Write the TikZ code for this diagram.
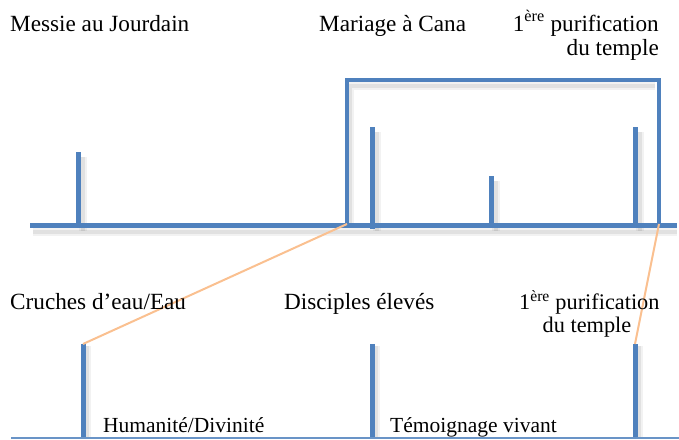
\documentclass[tikz,border=0pt]{standalone}
\usepackage{fontspec}
\setmainfont{Liberation Serif}
\definecolor{ublue}{HTML}{4F81BD}
\definecolor{uorange}{HTML}{FAC090}
\begin{document}
\begin{tikzpicture}[x=1pt,y=-1pt,
  bar/.style={ublue,line width=5pt},
  thin bar/.style={ublue,line width=3.2pt},
  link/.style={uorange,line width=2pt},
  shade/.style={black,line width=8pt,opacity=0.05},
  shadein/.style={black,line width=4pt,opacity=0.07},
  lbl/.style={inner sep=0pt,font=\fontsize{21.5}{24}\selectfont,text=black},
  big/.style={font=\fontsize{23.2}{26}\selectfont}]
\useasboundingbox (0,0) rectangle (679,439);
% shadows
\foreach \s in {shade,shadein}{
  \draw[\s] (33,232) -- (677,232);
  \foreach \x/\t in {80/155,374/130,493/179,637/130}{\draw[\s] (\x+3,\t+2) -- (\x+3,231);}
  \foreach \x in {86,375,638}{\draw[\s] (\x+1,346) -- (\x+1,439);}
  \draw[\s] (350,224) -- (350,86) -- (655,86);
}
% top timeline
\coordinate (axL) at (30,225);
\coordinate (axR) at (677,225);
\draw[bar] (axL) -- (axR);
\coordinate (t1) at (78,152); \coordinate (t1b) at (78,225);
\coordinate (t2) at (372,127); \coordinate (t2b) at (372,229);
\coordinate (t3) at (491,176); \coordinate (t3b) at (491,225);
\coordinate (t4) at (635,127); \coordinate (t4b) at (635,225);
\draw[bar] (t1) -- (t1b);
\draw[bar] (t2) -- (t2b);
\draw[bar] (t3) -- (t3b);
\draw[bar] (t4) -- (t4b);
% bracket
\coordinate (bL) at (347,224);
\coordinate (bR) at (659,224);
\draw[thin bar,line join=miter] (bL) -- (347,80) -- (659,80) -- (bR);
% bottom
\coordinate (bl1) at (83,344); \coordinate (bl1b) at (83,439);
\coordinate (bl2) at (372,344); \coordinate (bl2b) at (372,439);
\coordinate (bl3) at (635,344); \coordinate (bl3b) at (635,439);
\draw[bar] (bl1) -- (bl1b);
\draw[bar] (bl2) -- (bl2b);
\draw[bar] (bl3) -- (bl3b);
\coordinate (gL) at (11,438); \coordinate (gR) at (679,438);
\draw[ublue!85,line width=1.3pt] (gL) -- (gR);
% links
\draw[link] (bL) -- (bl1);
\draw[link] (bR) -- (bl3);
% labels top
\node[lbl,big,anchor=base west] (m1) at (10,31) {Messie au Jourdain};
\node[lbl,big,anchor=base west] (m2) at (319,31) {Mariage à Cana};
\node[lbl,big,anchor=base east] (m3) at (659,31) {1\textsuperscript{ère} purification};
\node[lbl,big,anchor=base east] (m4) at (659,55) {du temple};
% labels bottom
\node[lbl,big,anchor=base west] (c1) at (10,309) {Cruches d’eau/Eau};
\node[lbl,big,anchor=base west] (c2) at (284,309) {Disciples élevés};
\node[lbl,font=\fontsize{22.3}{25}\selectfont,anchor=base west] (c3) at (519,309) {1\textsuperscript{ère} purification};
\node[lbl,font=\fontsize{22.3}{25}\selectfont,anchor=base] (c4) at (587,332) {du temple};
\node[lbl,anchor=base west] (h1) at (103,432) {Humanité/Divinité};
\node[lbl,anchor=base west] (h2) at (390,432) {Témoignage vivant};
\end{tikzpicture}
\end{document}
